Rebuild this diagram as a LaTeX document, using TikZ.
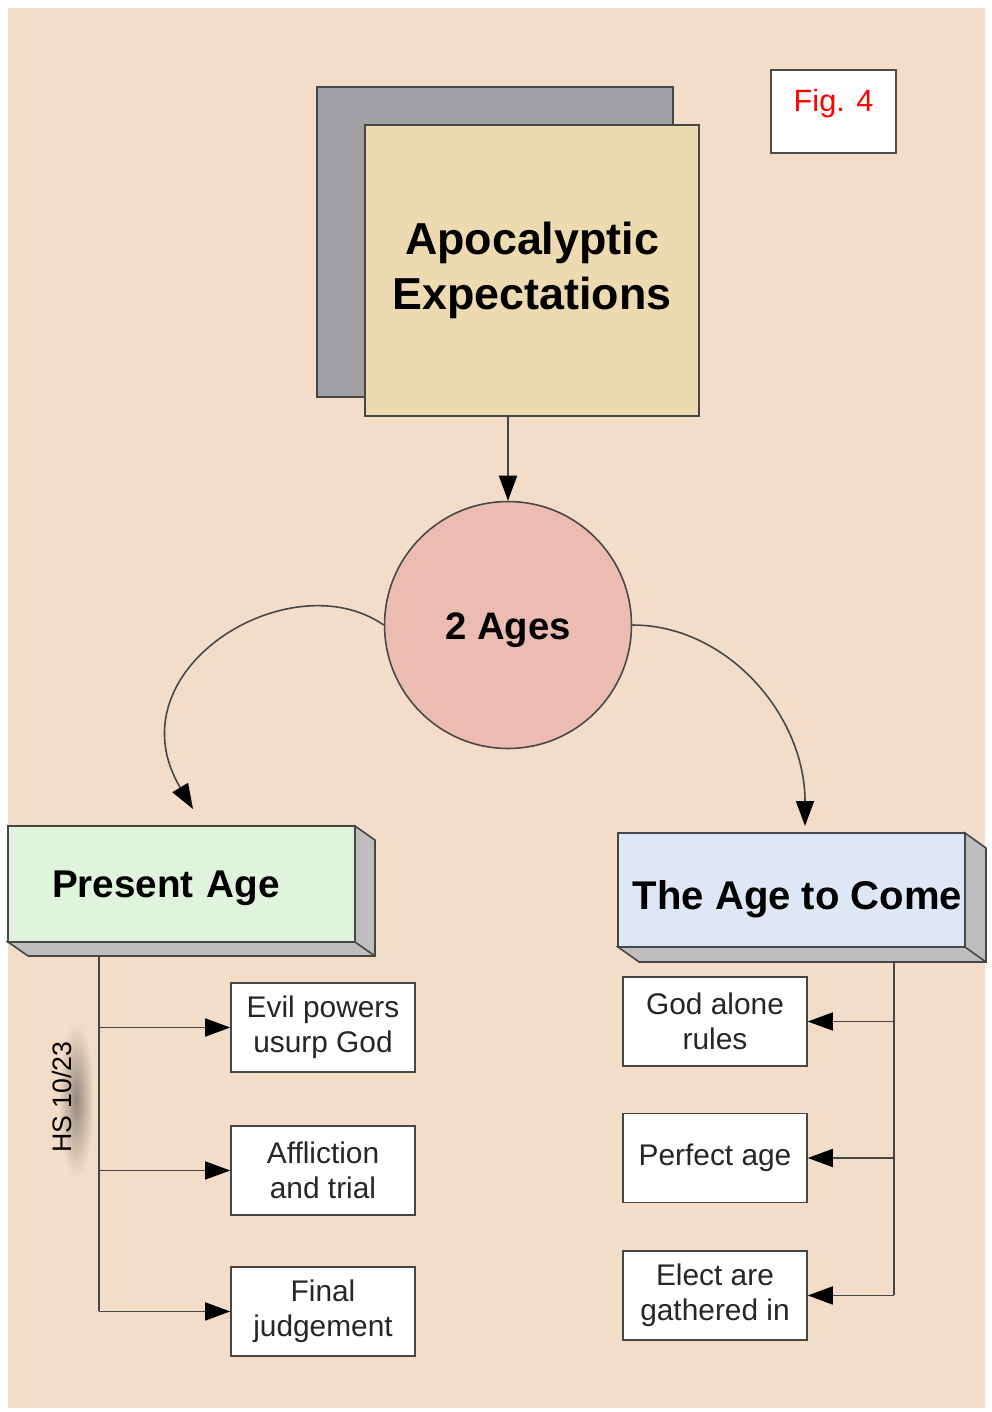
\documentclass[tikz,border=0pt]{standalone}
\usepackage{fontspec}
\setmainfont{Liberation Sans}
\usetikzlibrary{arrows.meta,calc}

\definecolor{peach}{RGB}{243,221,201}
\definecolor{tan}{RGB}{238,218,176}
\definecolor{shade}{RGB}{160,159,164}
\definecolor{salmon}{RGB}{235,188,175}
\definecolor{mint}{RGB}{223,243,221}
\definecolor{ice}{RGB}{221,231,246}
\definecolor{side}{RGB}{190,190,190}
\definecolor{ink}{RGB}{70,70,70}

\newcommand{\droptext}[2]{\raisebox{-#1}[\height][\depth]{#2}}

\begin{document}
\begin{tikzpicture}
	[x=0.02cm, y=-0.02cm, line width=0.8pt,
	conn/.style = {draw=ink, line width=0.9pt},
	tip/.style = {-{Triangle[length=0.5cm, width=0.36cm, black]}},
	face/.style = {draw=ink, fill=side, line width=0.9pt},
	head/.style = {draw=ink, line width=0.9pt, outer sep=0pt, font=\bfseries\fontsize{22}{26}\selectfont},
	sub/.style = {draw=ink, fill=white, line width=0.9pt, minimum width=3.68cm, minimum height=1.78cm,
		align=center, text=black!85, font=\fontsize{17}{19.8}\selectfont}]
	\useasboundingbox (0,0) rectangle (991,1412);
	\fill[peach] (8,8) rectangle (985,1408);
	% title block
	\node[draw=ink, fill=shade, minimum width=7.12cm, minimum height=6.2cm] (shadow) at (495,242) {};
	\node[draw=ink, fill=tan, minimum width=6.68cm, minimum height=5.82cm, align=center,
		font=\bfseries\fontsize{25.5}{31.5}\selectfont] (ae) at (532,270.5) {Apocalyptic\\Expectations};
	\node[draw=black!70, fill=white, minimum width=2.5cm, minimum height=1.66cm, text=red,
		font=\fontsize{17.5}{20}\selectfont] (fig) at (833.5,111.5) {\droptext{-0.16cm}{Fig. 4}};
	\node[draw=ink, fill=salmon, circle, minimum size=4.94cm, line width=0.9pt,
		font=\bfseries\fontsize{21.8}{26}\selectfont] (ages) at (508,625) {\droptext{0.1cm}{2 Ages}};
	\draw[conn,tip] (ages.north |- ae.south) -- (ages.north);
	% the two ages
	\node[head, fill=mint, minimum width=6.94cm, minimum height=2.32cm, text width=5.18cm,
		inner xsep=0.88cm, align=left] (pa) at (181.5,884) {\droptext{0.08cm}{Present Age}};
	\draw[face] (pa.south west) -- ++(20,14) -| ($(pa.north east)+(20,14)$) -- (pa.north east) -- (pa.south east) -- cycle;
	\draw[conn] (pa.south east) -- ++(20,14);
	\node[head, fill=ice, minimum width=6.94cm, minimum height=2.28cm, inner sep=0pt,
		font=\bfseries\fontsize{22.8}{26}\selectfont] (ac) at (791.5,890) {\hspace*{0.24cm}\droptext{0.18cm}{The Age to Come}};
	\draw[face] (ac.south west) -- ++(21,15) -| ($(ac.north east)+(21,15)$) -- (ac.north east) -- (ac.south east) -- cycle;
	\draw[conn] (ac.south east) -- ++(21,15);
	\coordinate (pain) at (193,809);
	\coordinate (acin) at (805,826);
	\draw[conn,tip] (ages.west) .. controls (290,560) and (110,670) .. (pain);
	\draw[conn,tip] (ages.east) .. controls (727,625) and (805,715) .. (acin);
	% present age items
	\node[sub] (ev) at (323,1027.5) {Evil powers\\usurp God};
	\node[sub] (af) [below of = ev, node distance=2.86cm] {Affliction\\and trial};
	\node[sub] (fj) [below of = af, node distance=2.82cm] {Final\\judgement};
	\coordinate (lt) at (99,956);
	\draw[conn] (lt) -- (lt |- fj.west);
	\draw[conn,tip] (lt |- ev.west) -- (ev.west);
	\draw[conn,tip] (lt |- af.west) -- (af.west);
	\draw[conn,tip] (lt |- fj.west) -- (fj.west);
	% age to come items
	\node[sub] (ga) at (715,1021.5) {God alone\\rules};
	\node[sub] (pf) [below of = ga, node distance=2.73cm] {Perfect age};
	\node[sub] (el) [below of = pf, node distance=2.75cm] {Elect are\\gathered in};
	\coordinate (rt) at (894,963);
	\draw[conn] (rt) -- (rt |- el.east);
	\draw[conn,tip] (rt |- ga.east) -- (ga.east);
	\draw[conn,tip] (rt |- pf.east) -- (pf.east);
	\draw[conn,tip] (rt |- el.east) -- (el.east);
	% initials with soft shadow
	\shade[inner color=black!38!peach, outer color=peach] (76,1100) ellipse [x radius=18, y radius=78];
	\node[rotate=90, font=\fontsize{15.2}{18}\selectfont] (hs) at (62,1097) {HS 10/23};
\end{tikzpicture}
\end{document}
